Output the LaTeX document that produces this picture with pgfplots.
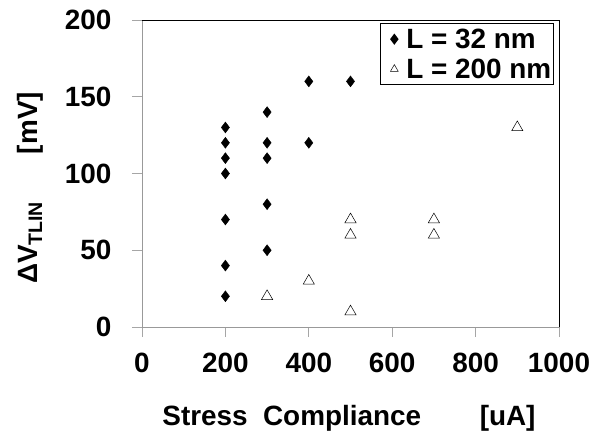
\documentclass[border=0pt]{standalone}
\usepackage{pgfplots}
\pgfplotsset{compat=1.18}
\usepackage{fontspec}
\setmainfont{Liberation Sans}
\begin{document}
\begin{tikzpicture}
\path[use as bounding box] (-142bp,-110bp) rectangle (453bp,327bp);
\begin{axis}[
  at={(0,0)}, anchor=south west,
  scale only axis, width=417bp, height=307bp,
  xmin=0, xmax=1000, ymin=0, ymax=200,
  xtick={0,200,...,1000}, ytick={0,50,...,200},
  tick align=outside, tick pos=left,
  major tick length=10bp,
  tick style={gray!70, line width=0.8pt},
  axis line style={gray!80, line width=0.8pt},
  /pgf/number format/assume math mode=true,
  /pgf/number format/1000 sep={},
  ticklabel style={font=\fontsize{28}{30}\selectfont\bfseries},
  xticklabel style={yshift=-12bp},
  yticklabel style={xshift=-17bp},
  legend style={at={(rel axis cs:1,1)}, xshift=-5bp, yshift=-3bp, anchor=north east,
    draw=black, line width=1.4pt, font=\fontsize{28}{30}\selectfont\bfseries,
    inner xsep=1pt, inner ysep=4pt, row sep=7pt, legend cell align=left,
    nodes={inner sep=1pt}},
  legend image code/.code={\path[draw=none, fill=none] (0bp,0bp) -- (24bp,0bp); \draw[#1, mark size=4.5pt] plot coordinates {(13bp,0bp)};},
  clip=false,
]
\addplot[only marks, mark=diamond*, mark size=5.5pt, black] coordinates {
 (200,130) (200,120) (200,110) (200,100) (200,70) (200,40) (200,20)
 (300,140) (300,120) (300,110) (300,80) (300,50)
 (400,160) (400,120)
 (500,160)
};
\addlegendentry{L = 32 nm}
\addplot[only marks, mark=triangle, mark size=6.5pt, black, line width=0.5pt] coordinates {
 (300,20) (400,30)
 (500,70) (500,60) (500,10)
 (700,70) (700,60)
 (900,130)
};
\addlegendentry{L = 200 nm}
\draw[black, line width=0.8pt] (rel axis cs:0,1) -- (rel axis cs:1,1) -- (rel axis cs:1,0);
\end{axis}
\node[rotate=90, font=\fontsize{28}{30}\selectfont\bfseries] at (-112bp,139bp) {ΔV\textsubscript{TLIN}\hspace{1.7em}[mV]};
\node[font=\fontsize{28}{30}\selectfont\bfseries] at (207bp,-91bp) {Stress\hspace{0.55em}Compliance\hspace{2.1em}[uA]};
\end{tikzpicture}
\end{document}
